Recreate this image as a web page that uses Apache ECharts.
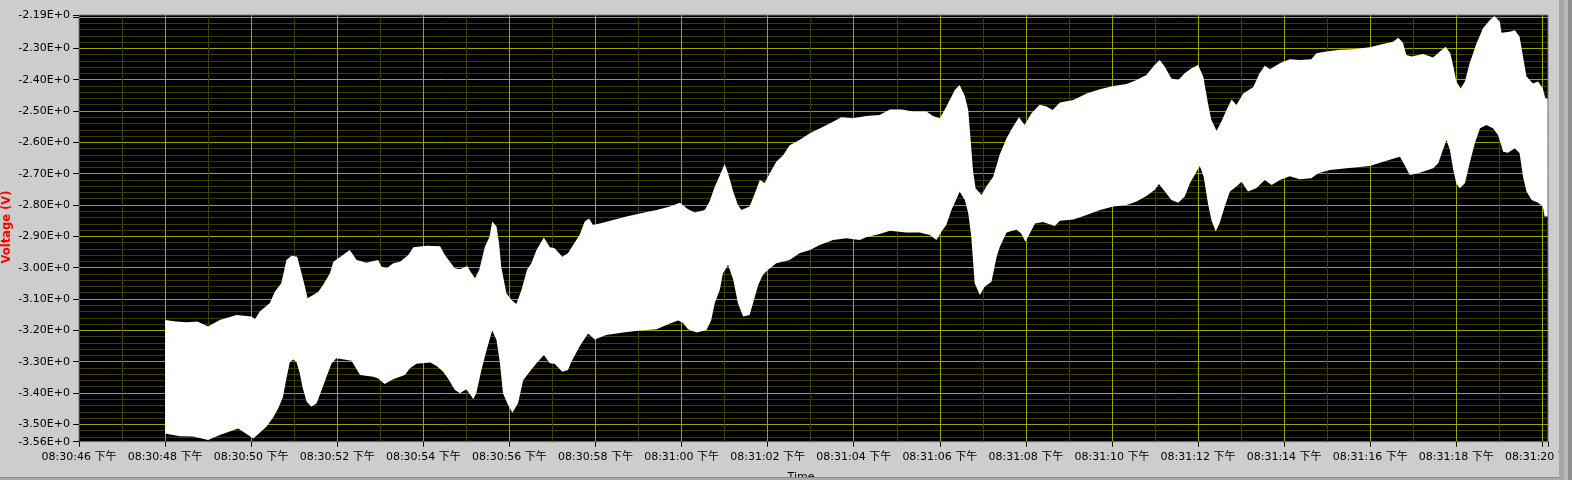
<!DOCTYPE html>
<html><head><meta charset="utf-8">
<script src="https://cdn.jsdelivr.net/npm/echarts@6/dist/echarts.min.js"></script>
<style>html,body{margin:0;padding:0;background:#cdcdcd;}#c{width:1572px;height:480px;}</style>
</head><body><div id="c"></div>
<script>
// ---- tick labels ----
const xTickSeconds = [0,2,4,6,8,10,12,14,16,18,20,22,24,26,28,30,32,34];
const xTickLabels = ['08:30:46 下午','08:30:48 下午','08:30:50 下午','08:30:52 下午','08:30:54 下午','08:30:56 下午','08:30:58 下午','08:31:00 下午','08:31:02 下午','08:31:04 下午','08:31:06 下午','08:31:08 下午','08:31:10 下午','08:31:12 下午','08:31:14 下午','08:31:16 下午','08:31:18 下午','08:31:20 下午'];
const X_MAX = 34.13;
const Y_MIN = -3.5555, Y_MAX = -2.1937;
const yTickValues = [Y_MIN,-3.5,-3.4,-3.3,-3.2,-3.1,-3.0,-2.9,-2.8,-2.7,-2.6,-2.5,-2.4,-2.3,Y_MAX];
const yTickLabels = ['-3.56E+0','-3.50E+0','-3.40E+0','-3.30E+0','-3.20E+0','-3.10E+0','-3.00E+0','-2.90E+0','-2.80E+0','-2.70E+0','-2.60E+0','-2.50E+0','-2.40E+0','-2.30E+0','-2.19E+0'];
const yTickMarks = yTickValues.concat([-2.2]);

// ---- data: seconds after 08:30:46, voltage (V) ----
const upperT = [2.00,2.25,2.50,2.75,3.00,3.27,3.66,4.00,4.09,4.20,4.43,4.55,4.70,4.82,4.94,5.07,5.17,5.25,5.31,5.44,5.56,5.67,5.83,5.91,6.10,6.29,6.45,6.68,6.95,7.03,7.15,7.30,7.46,7.65,7.77,8.08,8.39,8.50,8.73,8.85,9.02,9.12,9.20,9.30,9.43,9.54,9.60,9.70,9.76,9.81,9.93,10.05,10.16,10.28,10.41,10.51,10.63,10.80,10.94,11.05,11.23,11.36,11.48,11.63,11.75,11.85,11.94,12.10,12.41,12.72,13.03,13.42,13.73,13.96,14.15,14.31,14.54,14.65,14.77,14.89,15.00,15.08,15.20,15.31,15.39,15.58,15.70,15.82,15.93,16.05,16.20,16.36,16.51,16.74,16.98,17.29,17.52,17.71,17.98,18.29,18.60,18.84,19.11,19.38,19.69,19.84,20.00,20.11,20.23,20.35,20.46,20.58,20.66,20.71,20.77,20.83,20.97,21.08,21.24,21.39,21.55,21.70,21.84,21.97,22.13,22.32,22.48,22.62,22.79,23.10,23.41,23.72,24.03,24.34,24.57,24.80,24.99,25.11,25.23,25.38,25.54,25.69,25.85,26.00,26.12,26.23,26.31,26.43,26.54,26.66,26.78,26.89,27.05,27.28,27.43,27.55,27.67,27.90,28.13,28.36,28.63,28.75,28.98,29.29,29.60,29.99,30.30,30.53,30.65,30.76,30.84,30.96,31.23,31.46,31.62,31.75,31.86,31.94,32.00,32.10,32.20,32.31,32.47,32.62,32.78,32.89,33.01,33.05,33.24,33.36,33.47,33.55,33.63,33.78,33.90,34.01,34.07,34.12];
const upperV = [-3.167,-3.172,-3.174,-3.172,-3.188,-3.167,-3.151,-3.156,-3.164,-3.140,-3.114,-3.077,-3.050,-2.976,-2.962,-2.965,-3.018,-3.061,-3.098,-3.087,-3.077,-3.055,-3.018,-2.981,-2.963,-2.944,-2.976,-2.984,-2.976,-2.997,-3.002,-2.986,-2.981,-2.960,-2.935,-2.930,-2.932,-2.960,-3.002,-3.005,-2.995,-3.018,-3.034,-3.007,-2.933,-2.901,-2.853,-2.869,-2.922,-2.997,-3.082,-3.103,-3.116,-3.071,-3.007,-2.986,-2.944,-2.904,-2.935,-2.938,-2.965,-2.954,-2.928,-2.896,-2.853,-2.843,-2.864,-2.859,-2.848,-2.837,-2.827,-2.816,-2.805,-2.793,-2.814,-2.824,-2.816,-2.789,-2.742,-2.705,-2.669,-2.699,-2.757,-2.800,-2.816,-2.805,-2.763,-2.720,-2.730,-2.699,-2.662,-2.641,-2.609,-2.593,-2.571,-2.550,-2.534,-2.520,-2.523,-2.516,-2.513,-2.495,-2.495,-2.502,-2.502,-2.516,-2.523,-2.497,-2.465,-2.433,-2.417,-2.452,-2.497,-2.582,-2.688,-2.747,-2.768,-2.741,-2.710,-2.640,-2.587,-2.550,-2.520,-2.545,-2.507,-2.480,-2.486,-2.497,-2.473,-2.465,-2.444,-2.431,-2.420,-2.414,-2.401,-2.385,-2.353,-2.337,-2.360,-2.396,-2.401,-2.380,-2.364,-2.353,-2.390,-2.476,-2.529,-2.563,-2.534,-2.497,-2.463,-2.481,-2.444,-2.424,-2.380,-2.356,-2.367,-2.348,-2.335,-2.337,-2.335,-2.316,-2.310,-2.305,-2.303,-2.297,-2.286,-2.279,-2.266,-2.282,-2.321,-2.326,-2.318,-2.329,-2.310,-2.295,-2.316,-2.364,-2.406,-2.428,-2.406,-2.348,-2.284,-2.236,-2.210,-2.197,-2.215,-2.250,-2.247,-2.242,-2.263,-2.327,-2.390,-2.412,-2.406,-2.428,-2.460,-2.460];
const lowerT = [2.00,2.34,2.65,3.00,3.27,3.50,3.70,3.89,4.05,4.20,4.36,4.51,4.63,4.74,4.81,4.90,4.98,5.05,5.13,5.19,5.29,5.40,5.52,5.64,5.75,5.87,5.98,6.33,6.53,6.84,6.95,7.10,7.30,7.57,7.69,7.84,8.16,8.31,8.46,8.57,8.73,8.85,9.00,9.12,9.16,9.23,9.35,9.47,9.60,9.70,9.78,9.85,9.97,10.07,10.20,10.32,10.47,10.63,10.80,10.94,11.05,11.23,11.36,11.44,11.63,11.75,11.83,11.98,12.25,12.64,13.03,13.42,13.73,13.92,14.03,14.15,14.35,14.58,14.69,14.77,14.89,14.96,15.08,15.20,15.31,15.43,15.58,15.66,15.78,15.89,16.01,16.20,16.51,16.74,16.98,17.21,17.52,17.83,18.14,18.29,18.60,18.84,19.22,19.53,19.77,19.92,20.04,20.15,20.27,20.39,20.46,20.58,20.66,20.73,20.81,20.93,21.04,21.20,21.32,21.39,21.55,21.78,21.89,21.99,22.09,22.21,22.40,22.67,22.79,23.10,23.41,23.72,24.03,24.34,24.57,24.80,24.99,25.09,25.23,25.38,25.54,25.69,25.81,25.92,26.04,26.13,26.23,26.31,26.41,26.50,26.62,26.74,26.89,27.01,27.16,27.36,27.55,27.71,27.90,28.13,28.36,28.63,28.79,29.06,29.45,29.99,30.30,30.57,30.69,30.80,30.92,31.15,31.46,31.58,31.69,31.77,31.85,31.93,32.00,32.08,32.20,32.31,32.43,32.55,32.70,32.85,32.97,33.09,33.20,33.36,33.47,33.55,33.63,33.75,33.90,34.01,34.05,34.12];
const lowerV = [-3.529,-3.538,-3.539,-3.550,-3.534,-3.523,-3.513,-3.531,-3.545,-3.527,-3.507,-3.478,-3.449,-3.412,-3.359,-3.300,-3.293,-3.300,-3.337,-3.380,-3.428,-3.444,-3.433,-3.390,-3.348,-3.305,-3.289,-3.297,-3.343,-3.348,-3.354,-3.371,-3.356,-3.343,-3.321,-3.307,-3.303,-3.314,-3.332,-3.353,-3.390,-3.401,-3.388,-3.411,-3.420,-3.401,-3.327,-3.263,-3.201,-3.231,-3.305,-3.401,-3.438,-3.463,-3.433,-3.359,-3.332,-3.305,-3.279,-3.305,-3.307,-3.332,-3.327,-3.300,-3.252,-3.226,-3.210,-3.229,-3.215,-3.207,-3.201,-3.197,-3.178,-3.169,-3.176,-3.197,-3.207,-3.199,-3.167,-3.114,-3.070,-3.019,-2.991,-3.039,-3.114,-3.156,-3.151,-3.114,-3.055,-3.023,-3.007,-2.986,-2.976,-2.954,-2.944,-2.928,-2.912,-2.906,-2.912,-2.903,-2.893,-2.882,-2.888,-2.888,-2.896,-2.912,-2.885,-2.864,-2.816,-2.779,-2.757,-2.784,-2.826,-2.901,-3.050,-3.087,-3.061,-3.045,-2.965,-2.935,-2.888,-2.878,-2.891,-2.917,-2.891,-2.859,-2.854,-2.867,-2.850,-2.846,-2.832,-2.816,-2.805,-2.800,-2.789,-2.771,-2.752,-2.733,-2.757,-2.784,-2.793,-2.773,-2.731,-2.704,-2.676,-2.710,-2.795,-2.848,-2.885,-2.858,-2.805,-2.757,-2.741,-2.726,-2.757,-2.746,-2.720,-2.736,-2.720,-2.708,-2.718,-2.715,-2.699,-2.688,-2.683,-2.676,-2.662,-2.651,-2.646,-2.673,-2.704,-2.697,-2.683,-2.667,-2.624,-2.593,-2.624,-2.688,-2.731,-2.747,-2.731,-2.667,-2.603,-2.555,-2.545,-2.555,-2.577,-2.630,-2.633,-2.619,-2.635,-2.710,-2.757,-2.784,-2.793,-2.805,-2.837,-2.837];

// ---- grid line positions ----
const r2 = v => Math.round(v * 100) / 100;
const xMinorGrid = [], xMajorGrid = [], yMinorGrid = [], yMajorGrid = [];
for (let s = 1; s <= 34; s++) (s % 2 ? xMinorGrid : xMajorGrid).push(s);
for (let k = -177; k <= -110; k++) { const v = r2(k * 0.02); (k % 5 === 0 ? yMajorGrid : yMinorGrid).push(v); }

const MAJOR = '#a2a200', MINOR = '#3e3e00';
const FONT = "'DejaVu Sans','Noto Sans CJK SC',sans-serif";

function gridAxis(min, max, vals, color, pos) {
  return { type: 'value', min: min, max: max, position: pos,
    axisLine: { show: false }, axisLabel: { show: false },
    axisTick: { show: false, customValues: vals },
    splitLine: { show: true, lineStyle: { color: color, width: 1 } } };
}

const chart = echarts.init(document.getElementById('c'), null, { renderer: 'canvas' });
chart.setOption({
  animation: false,
  backgroundColor: '#cdcdcd',
  grid: { left: 79, right: 24, top: 15, bottom: 38.3, containLabel: false, outerBoundsMode: 'none',
          show: true, backgroundColor: '#000', borderColor: '#7c7c7c', borderWidth: 1 },
  xAxis: [gridAxis(0, X_MAX, xMinorGrid, MINOR, 'bottom'), gridAxis(0, X_MAX, xMajorGrid, MAJOR, 'bottom'), {
    type: 'value', min: 0, max: X_MAX, position: 'bottom',
    axisLine: { show: false }, splitLine: { show: false },
    axisTick: { show: true, length: 5, customValues: xTickSeconds.concat([X_MAX]), lineStyle: { color: '#000' } },
    axisLabel: { customValues: xTickSeconds, margin: 10, color: '#000', fontFamily: FONT, fontSize: 11, hideOverlap: false,
      formatter: v => { const i = xTickSeconds.findIndex(s => Math.abs(s - v) < 1e-6); return i >= 0 ? xTickLabels[i] : ''; } }
  }],
  yAxis: [gridAxis(Y_MIN, Y_MAX, yMinorGrid, MINOR, 'left'), gridAxis(Y_MIN, Y_MAX, yMajorGrid, MAJOR, 'left'), {
    type: 'value', min: Y_MIN, max: Y_MAX, position: 'left',
    axisLine: { show: false }, splitLine: { show: false },
    axisTick: { show: true, length: 6, customValues: yTickMarks, lineStyle: { color: '#000' } },
    axisLabel: { customValues: yTickValues, margin: 9, color: '#000', fontFamily: FONT, fontSize: 11,
      formatter: v => { const i = yTickValues.findIndex(s => Math.abs(s - v) < 1e-6); return i >= 0 ? yTickLabels[i] : ''; } }
  }],
  series: [{
    type: 'custom', xAxisIndex: 2, yAxisIndex: 2, clip: true,
    data: upperT.map((t, i) => [t, upperV[i]]),
    renderItem: (params, api) => {
      if (params.dataIndex !== 0) return null;
      const pts = [];
      for (let i = 0; i < upperT.length; i++) pts.push(api.coord([upperT[i], upperV[i]]));
      for (let i = lowerT.length - 1; i >= 0; i--) pts.push(api.coord([lowerT[i], lowerV[i]]));
      return { type: 'polygon', shape: { points: pts }, style: { fill: '#ffffff', stroke: null } };
    }
  }],
  graphic: [
    { type: 'text', x: 7, y: 227, rotation: Math.PI / 2, z: 100,
      style: { text: 'Voltage (V)', fill: '#ff0000', font: "bold 11.5px 'DejaVu Sans',sans-serif", align: 'center', verticalAlign: 'middle' } },
    { type: 'text', x: 801, y: 477, z: 100,
      style: { text: 'Time', fill: '#000', font: "11px 'DejaVu Sans',sans-serif", align: 'center', verticalAlign: 'middle' } },
    { type: 'rect', shape: { x: 0, y: 477, width: 1572, height: 1 }, style: { fill: '#8a8a8a' }, z: 101 },
    { type: 'rect', shape: { x: 0, y: 478, width: 1572, height: 2 }, style: { fill: '#a9a9a9' }, z: 101 },
    { type: 'rect', shape: { x: 1559, y: 0, width: 5, height: 480 }, style: { fill: '#a6a6a6' }, z: 102 },
    { type: 'rect', shape: { x: 1564, y: 0, width: 4, height: 480 }, style: { fill: '#b9b9b9' }, z: 102 },
    { type: 'rect', shape: { x: 1568, y: 0, width: 4, height: 480 }, style: { fill: '#8e8e8e' }, z: 102 }
  ]
});
</script></body></html>
